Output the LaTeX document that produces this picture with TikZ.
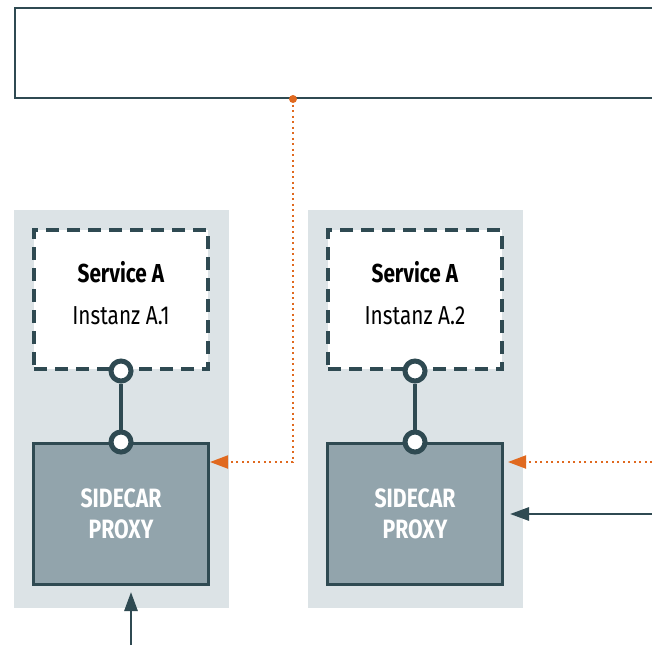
\documentclass[tikz,border=0pt]{standalone}
\usepackage{fontspec}
\setmainfont[FakeStretch=0.8]{Fira Sans}
\usetikzlibrary{arrows.meta}
\definecolor{slate}{HTML}{2F4A52}
\definecolor{panelgray}{HTML}{DCE3E6}
\definecolor{proxygray}{HTML}{92A4AC}
\definecolor{signal}{HTML}{E0691F}
\begin{document}
\begin{tikzpicture}[x=1pt,y=-1pt,
    panel/.style={rectangle,fill=panelgray,minimum width=215pt,minimum height=398pt},
    service/.style={rectangle,draw=slate,line width=4pt,dash pattern=on 13pt off 8pt,fill=white,
      minimum width=174pt,minimum height=139pt,align=center,text depth=14pt,
      font=\fontsize{26}{31}\selectfont},
    sidecar/.style={rectangle,draw=slate,line width=3pt,fill=proxygray,text=white,
      minimum width=175pt,minimum height=141pt,align=center,font=\fontsize{26.5}{31}\selectfont\bfseries},
    port/.style={circle,draw=slate,line width=5pt,fill=white,minimum size=20pt,inner sep=0pt},
    link/.style={draw=slate,line width=4pt},
    flow/.style={draw=slate,line width=2.8pt,-{Triangle[length=19pt,width=13pt]}},
    notify/.style={draw=signal,line width=2pt,dash pattern=on 2pt off 3.5pt,
      -{Triangle[length=18pt,width=13pt,fill=signal]}}]
  \clip (0,0) rectangle (652,645);
  % bus across the top
  \node[rectangle,draw=slate,line width=2.5pt,minimum width=700pt,minimum height=90pt] (bus) at (365,53) {};
  % instance A.1
  \node[panel] (panel1) at (121.5,409) {};
  \node[service] (service1) at (121,299.5) {\textbf{Service A}\\[11pt]Instanz A.1};
  \node[sidecar] (sidecar1) at (121,514) {SIDECAR\\PROXY};
  % instance A.2
  \node[panel] (panel2) at (415.5,409) {};
  \node[service] (service2) at (415,299.5) {\textbf{Service A}\\[11pt]Instanz A.2};
  \node[sidecar] (sidecar2) at (415,514) {SIDECAR\\PROXY};
  % ports
  \node[port] (port1a) at (service1.south) {};
  \node[port] (port1b) at (sidecar1.north) {};
  \node[port] (port2a) at (service2.south) {};
  \node[port] (port2b) at (sidecar2.north) {};
  \path[link]
    (port1a) -- (port1b)
    (port2a) -- (port2b);
  % outside ends
  \coordinate (tap) at (293,99);
  \coordinate (in1) at (131,645);
  \coordinate (in2a) at (652,462);
  \coordinate (in2b) at (652,514);
  \draw[notify] (tap) |- ([yshift=52pt]sidecar1.east);
  \draw[notify,shorten >=4pt] (in2a) -- ([yshift=52pt]sidecar2.east);
  \draw[flow,shorten >=6pt] (in2b) -- (sidecar2.east);
  \draw[flow,shorten >=6pt] (in1) -- ([xshift=10pt]sidecar1.south);
  \fill[signal] (tap) circle (4pt);
\end{tikzpicture}
\end{document}
